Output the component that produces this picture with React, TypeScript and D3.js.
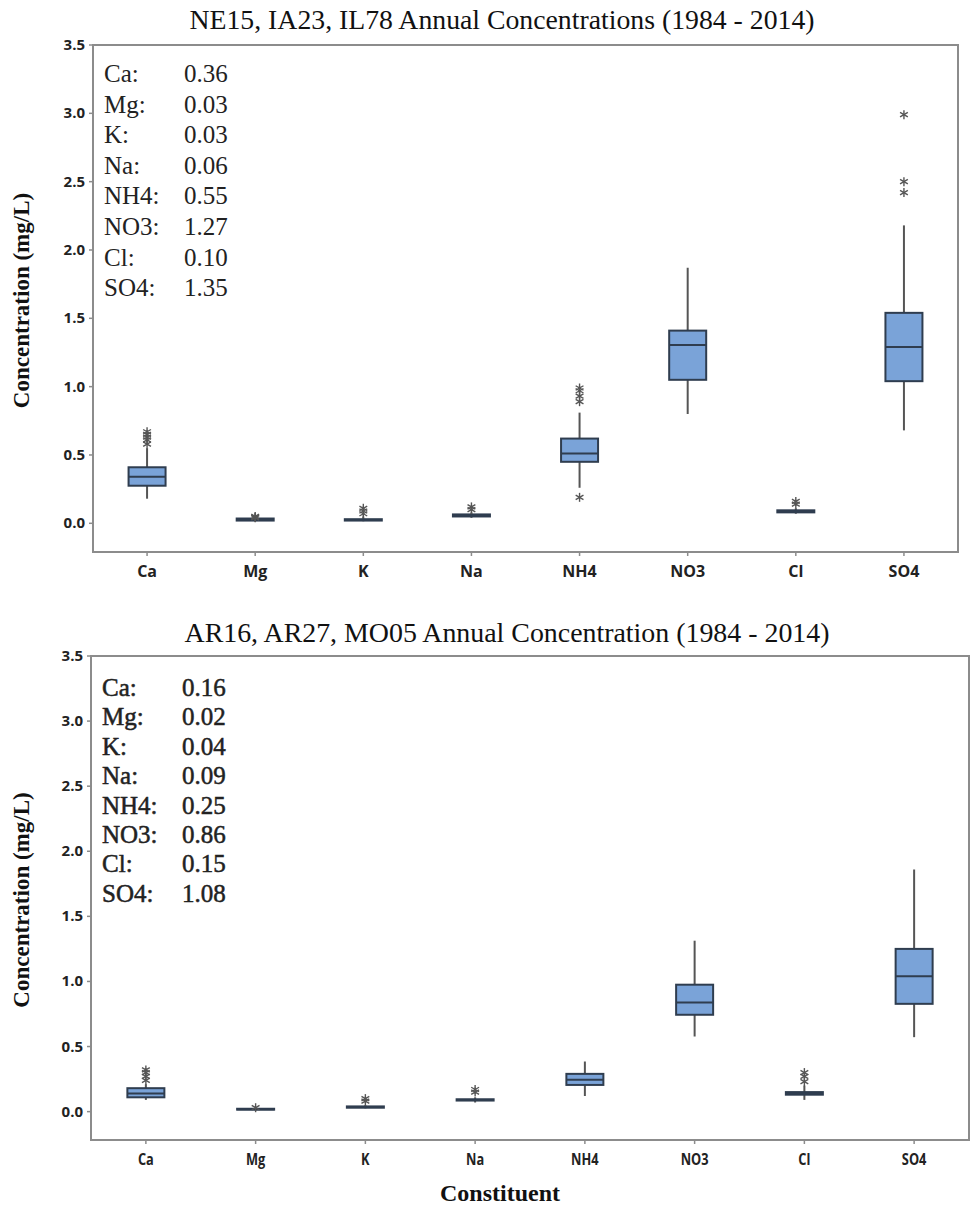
import React from "react";
import * as d3 from "d3";

const categories = ["Ca", "Mg", "K", "Na", "NH4", "NO3", "Cl", "SO4"];

// Top panel (NE15, IA23, IL78)
const topLow = [0.18, 0.015, 0.015, 0.04, 0.26, 0.8, 0.07, 0.68];
const topQ1 = [0.275, 0.02, 0.02, 0.05, 0.45, 1.05, 0.08, 1.04];
const topMedian = [0.34, 0.03, 0.025, 0.055, 0.51, 1.305, 0.085, 1.29];
const topQ3 = [0.41, 0.035, 0.03, 0.065, 0.62, 1.41, 0.095, 1.54];
const topHigh = [0.55, 0.045, 0.05, 0.08, 0.81, 1.87, 0.11, 2.18];
const topOutliers = [
  [0.58, 0.61, 0.63, 0.65, 0.67],
  [0.04, 0.045, 0.05],
  [0.07, 0.09, 0.11],
  [0.1, 0.12],
  [0.19, 0.89, 0.93, 0.97, 0.99],
  [],
  [0.14, 0.16],
  [2.42, 2.5, 2.99],
];
const topMeans = ["0.36", "0.03", "0.03", "0.06", "0.55", "1.27", "0.10", "1.35"];

// Bottom panel (AR16, AR27, MO05)
const botLow = [0.09, 0.01, 0.025, 0.07, 0.12, 0.577, 0.09, 0.572];
const botQ1 = [0.11, 0.015, 0.03, 0.085, 0.205, 0.744, 0.13, 0.828];
const botMedian = [0.14, 0.018, 0.035, 0.09, 0.245, 0.838, 0.14, 1.04];
const botQ3 = [0.18, 0.022, 0.04, 0.095, 0.29, 0.975, 0.15, 1.25];
const botHigh = [0.21, 0.025, 0.05, 0.11, 0.385, 1.313, 0.2, 1.86];
const botOutliers = [
  [0.24, 0.27, 0.3, 0.32],
  [0.03],
  [0.08, 0.1],
  [0.15, 0.17],
  [],
  [],
  [0.23, 0.27, 0.3],
  [],
];
const botMeans = ["0.16", "0.02", "0.04", "0.09", "0.25", "0.86", "0.15", "1.08"];

const yTicks = [0.0, 0.5, 1.0, 1.5, 2.0, 2.5, 3.0, 3.5];

const BOX_FILL = "#7aa3d8";
const BOX_STROKE = "#2f3d4f";
const FRAME = "#8c8c8c";

function Asterisk({ x, y }: { x: number; y: number }) {
  const r = 4.5;
  const lines = [0, 60, 120].map((a) => {
    const rad = (a * Math.PI) / 180;
    return [x - r * Math.sin(rad), y - r * Math.cos(rad), x + r * Math.sin(rad), y + r * Math.cos(rad)];
  });
  return (
    <g stroke="#555" strokeWidth={1.4}>
      {lines.map((l, i) => (
        <line key={i} x1={l[0]} y1={l[1]} x2={l[2]} y2={l[3]} />
      ))}
    </g>
  );
}

type PanelProps = {
  title: string;
  titleX: number;
  titleY: number;
  titleLen: number;
  left: number;
  right: number;
  top: number;
  bottom: number;
  yMin: number;
  low: number[];
  q1: number[];
  median: number[];
  q3: number[];
  high: number[];
  outliers: number[][];
  means: string[];
  legendY: number;
  legendStep: number;
  legendStroke: number;
  xLabelY: number;
  xLabelCondensed: boolean;
};

function Panel(p: PanelProps) {
  const x = d3.scalePoint<string>().domain(categories).range([p.left, p.right]).padding(0.5);
  const y = d3.scaleLinear().domain([p.yMin, 3.5]).range([p.bottom, p.top]);
  const bw = 37;
  const cy = (p.top + p.bottom) / 2;
  return (
    <g>
      <text
        x={p.titleX}
        y={p.titleY}
        textAnchor="middle"
        fontFamily="'Liberation Serif', 'Times New Roman', serif"
        fontSize={28}
        textLength={p.titleLen}
        lengthAdjust="spacingAndGlyphs"
        fill="#111"
      >
        {p.title}
      </text>
      <text
        transform={`translate(29,${cy + 2}) rotate(-90)`}
        textAnchor="middle"
        fontFamily="'Liberation Serif', 'Times New Roman', serif"
        fontWeight="bold"
        fontSize={23}
        fill="#111"
      >
        Concentration (mg/L)
      </text>
      <rect x={p.left} y={p.top} width={p.right - p.left} height={p.bottom - p.top} fill="#fff" stroke={FRAME} strokeWidth={2} />
      {yTicks.map((t) => (
        <g key={t}>
          <line x1={p.left - 4} x2={p.left} y1={y(t)} y2={y(t)} stroke={FRAME} strokeWidth={1.5} />
          <text
            x={p.left - 8}
            y={y(t) + 5}
            textAnchor="end"
            fontFamily="'Open Sans', sans-serif"
            fontWeight="bold"
            fontSize={15}
            fill="#222"
          >
            {t.toFixed(1)}
          </text>
        </g>
      ))}
      {categories.map((c) => (
        <g key={c}>
          <line x1={x(c)} x2={x(c)} y1={p.bottom} y2={p.bottom + 4} stroke={FRAME} strokeWidth={1.5} />
          <text
            x={x(c)}
            y={p.xLabelY}
            textAnchor="middle"
            fontFamily="'Open Sans', sans-serif"
            fontWeight="bold"
            fontSize={16}
            fill="#222"
            transform={p.xLabelCondensed ? `translate(${x(c)! * 0.2},0) scale(0.8,1)` : undefined}
          >
            {c}
          </text>
        </g>
      ))}
      {categories.map((c, i) => {
        const xc = x(c)!;
        return (
          <g key={c}>
            <line x1={xc} x2={xc} y1={y(p.high[i])} y2={y(p.q3[i])} stroke="#555" strokeWidth={2} />
            <line x1={xc} x2={xc} y1={y(p.q1[i])} y2={y(p.low[i])} stroke="#555" strokeWidth={2} />
            <rect
              x={xc - bw / 2}
              y={y(p.q3[i])}
              width={bw}
              height={Math.max(0, y(p.q1[i]) - y(p.q3[i]))}
              fill={BOX_FILL}
              stroke={BOX_STROKE}
              strokeWidth={2}
            />
            <line x1={xc - bw / 2} x2={xc + bw / 2} y1={y(p.median[i])} y2={y(p.median[i])} stroke={BOX_STROKE} strokeWidth={2} />
            {p.outliers[i].map((o, j) => (
              <Asterisk key={j} x={xc} y={y(o)} />
            ))}
          </g>
        );
      })}
      {categories.map((c, i) => (
        <g
          key={c}
          fontFamily="'Liberation Serif', 'Times New Roman', serif"
          fontSize={25}
          fill="#222"
          stroke="#222"
          strokeWidth={p.legendStroke}
        >
          <text x={p.left + 11} y={p.legendY + i * p.legendStep}>
            {c}:
          </text>
          <text x={p.left + 91} y={p.legendY + i * p.legendStep}>
            {p.means[i]}
          </text>
        </g>
      ))}
    </g>
  );
}

export default function App() {
  return (
    <svg width={971} height={1211} style={{ display: "block", position: "absolute", left: 0, top: 0 }}>
      <rect width={971} height={1211} fill="#fff" />
      <Panel
        title="NE15, IA23, IL78 Annual Concentrations  (1984 - 2014)"
        titleX={502}
        titleY={29}
        titleLen={625}
        left={93}
        right={958}
        top={45}
        bottom={552}
        yMin={-0.21}
        low={topLow}
        q1={topQ1}
        median={topMedian}
        q3={topQ3}
        high={topHigh}
        outliers={topOutliers}
        means={topMeans}
        legendY={82}
        legendStep={30.6}
        legendStroke={0}
        xLabelY={577}
        xLabelCondensed={false}
      />
      <Panel
        title="AR16, AR27, MO05 Annual Concentration (1984 - 2014)"
        titleX={507}
        titleY={642}
        titleLen={645}
        left={91}
        right={969}
        top={656}
        bottom={1140}
        yMin={-0.218}
        low={botLow}
        q1={botQ1}
        median={botMedian}
        q3={botQ3}
        high={botHigh}
        outliers={botOutliers}
        means={botMeans}
        legendY={696}
        legendStep={29.4}
        legendStroke={0.5}
        xLabelY={1165}
        xLabelCondensed={true}
      />
      <text x={500} y={1201} textAnchor="middle" fontFamily="'Liberation Serif', 'Times New Roman', serif" fontWeight="bold" fontSize={24} fill="#111">
        Constituent
      </text>
    </svg>
  );
}
